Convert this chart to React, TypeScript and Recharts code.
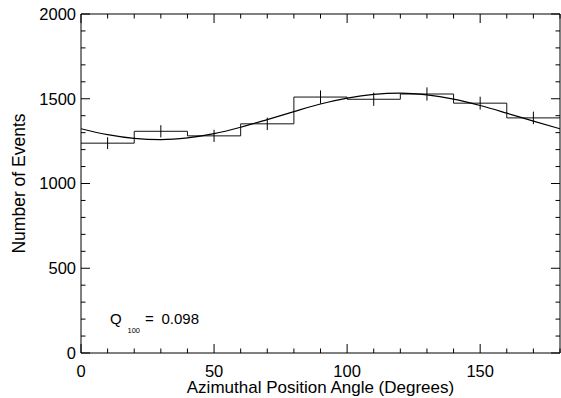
import { ComposedChart, Line, XAxis, YAxis, ErrorBar } from "recharts";

// histogram bin edges (deg) and counts; last edge repeats last count to close the step
const binEdges = [0, 20, 40, 60, 80, 100, 120, 140, 160, 180];
const binCounts = [1238, 1308, 1281, 1352, 1510, 1497, 1528, 1474, 1387, 1387];

// bin centres with error bars
const binCenters = [10, 30, 50, 70, 90, 110, 130, 150, 170];
const centerCounts = [1238, 1308, 1281, 1352, 1510, 1497, 1528, 1474, 1387];
const countErrors = [35, 36, 36, 37, 39, 39, 39, 38, 37];

// modulation fit, read every 10 deg
const fitAngles = [0, 10, 20, 30, 40, 50, 60, 70, 80, 90, 100, 110, 120, 130, 140, 150, 160, 170, 180];
const fitCounts = [1323, 1288, 1266, 1259, 1269, 1294, 1332, 1377, 1424, 1469, 1504, 1526, 1533, 1523, 1498, 1460, 1415, 1368, 1323];

const xTicks = [0, 10, 20, 30, 40, 50, 60, 70, 80, 90, 100, 110, 120, 130, 140, 150, 160, 170, 180];
const xLabelTicks = [0, 50, 100, 150];
const yTicks = [0, 100, 200, 300, 400, 500, 600, 700, 800, 900, 1000, 1100, 1200, 1300, 1400, 1500, 1600, 1700, 1800, 1900, 2000];
const yLabelTicks = [0, 500, 1000, 1500, 2000];

const histData = binEdges.map((x, i) => ({ x, y: binCounts[i] }));
const errData = binCenters.map((x, i) => ({ x, y: centerCounts[i], err: countErrors[i] }));
const fitData = fitAngles.map((x, i) => ({ x, y: fitCounts[i] }));

const FONT = "'Liberation Sans', Arial, Helvetica, sans-serif";

const BottomTick = (p: any) => {
  const v = p.payload.value;
  const major = xLabelTicks.includes(v);
  return (
    <g>
      <line x1={p.x} x2={p.x} y1={p.y} y2={p.y - (major ? 9 : 4.5)} stroke="#000" />
      {major && (
        <text x={p.x} y={p.y + 12} dy="0.71em" textAnchor="middle" fontSize={16.5} fontFamily={FONT} fill="#000">
          {v}
        </text>
      )}
    </g>
  );
};

const TopTick = (p: any) => {
  const major = xLabelTicks.includes(p.payload.value);
  return <line x1={p.x} x2={p.x} y1={p.y} y2={p.y + (major ? 9 : 4.5)} stroke="#000" />;
};

const LeftTick = (p: any) => {
  const v = p.payload.value;
  const major = yLabelTicks.includes(v);
  return (
    <g>
      <line x1={p.x + 5} x2={p.x + 5 + (major ? 9 : 4.5)} y1={p.y} y2={p.y} stroke="#000" />
      {major && (
        <text x={p.x} y={p.y} dy="0.355em" textAnchor="end" fontSize={16.5} fontFamily={FONT} fill="#000">
          {v}
        </text>
      )}
    </g>
  );
};

const RightTick = (p: any) => {
  const major = yLabelTicks.includes(p.payload.value);
  return <line x1={p.x} x2={p.x - (major ? 9 : 4.5)} y1={p.y} y2={p.y} stroke="#000" />;
};

export default function App() {
  return (
    <div style={{ position: "absolute", left: 0, top: 0, width: 561, height: 398, background: "#fff" }}>
      <ComposedChart width={561} height={398} margin={{ top: 13, right: 0, bottom: 0, left: 0 }}>
        <XAxis
          xAxisId="b"
          dataKey="x"
          type="number"
          domain={[0, 180]}
          allowDataOverflow
          ticks={xTicks}
          interval={0}
          height={45}
          tickSize={0}
          tickMargin={0}
          tick={<BottomTick />}
          axisLine={{ stroke: "#000" }}
          label={{
            value: "Azimuthal Position Angle (Degrees)",
            position: "insideBottom",
            offset: 5,
            style: { fontSize: 17, fontFamily: FONT, fill: "#000" },
          }}
        />
        <XAxis
          xAxisId="t"
          dataKey="x"
          orientation="top"
          type="number"
          domain={[0, 180]}
          allowDataOverflow
          ticks={xTicks}
          interval={0}
          height={1}
          tickSize={0}
          tickMargin={0}
          tick={<TopTick />}
          axisLine={{ stroke: "#000" }}
        />
        <YAxis
          yAxisId="l"
          type="number"
          domain={[0, 2000]}
          allowDataOverflow
          ticks={yTicks}
          interval={0}
          width={81}
          tickSize={0}
          tickMargin={5}
          tick={<LeftTick />}
          axisLine={{ stroke: "#000" }}
          label={{
            value: "Number of Events",
            angle: -90,
            position: "insideLeft",
            offset: 19,
            style: { fontSize: 17.5, fontFamily: FONT, fill: "#000", textAnchor: "middle" },
          }}
        />
        <YAxis
          yAxisId="r"
          orientation="right"
          type="number"
          domain={[0, 2000]}
          allowDataOverflow
          ticks={yTicks}
          interval={0}
          width={1}
          tickSize={0}
          tickMargin={0}
          tick={<RightTick />}
          axisLine={{ stroke: "#000" }}
        />
        {/* invisible series so the top and right frame axes get drawn */}
        <Line
          xAxisId="t"
          yAxisId="r"
          data={histData}
          dataKey="y"
          stroke="none"
          dot={false}
          isAnimationActive={false}
        />
        <Line
          xAxisId="b"
          yAxisId="l"
          data={histData}
          dataKey="y"
          type="stepAfter"
          stroke="#111"
          strokeWidth={1}
          dot={false}
          isAnimationActive={false}
        />
        <Line
          xAxisId="b"
          yAxisId="l"
          data={fitData}
          dataKey="y"
          type="monotone"
          stroke="#000"
          strokeWidth={1.2}
          dot={false}
          isAnimationActive={false}
        />
        <Line
          xAxisId="b"
          yAxisId="l"
          data={errData}
          dataKey="y"
          stroke="none"
          dot={false}
          isAnimationActive={false}
        >
          <ErrorBar dataKey="err" direction="y" width={0} stroke="#000" strokeWidth={1} />
        </Line>
      </ComposedChart>
      <div style={{ position: "absolute", left: 0, top: 0, fontFamily: FONT, color: "#000", whiteSpace: "nowrap" }}>
        <span style={{ position: "absolute", left: 110, top: 310, fontSize: 15, lineHeight: "17px" }}>Q</span>
        <span style={{ position: "absolute", left: 127.5, top: 326, fontSize: 7.5, lineHeight: "9px" }}>100</span>
        <span style={{ position: "absolute", left: 145, top: 310, fontSize: 15, lineHeight: "17px" }}>=</span>
        <span style={{ position: "absolute", left: 161.5, top: 310, fontSize: 15, lineHeight: "17px" }}>0.098</span>
      </div>
    </div>
  );
}
